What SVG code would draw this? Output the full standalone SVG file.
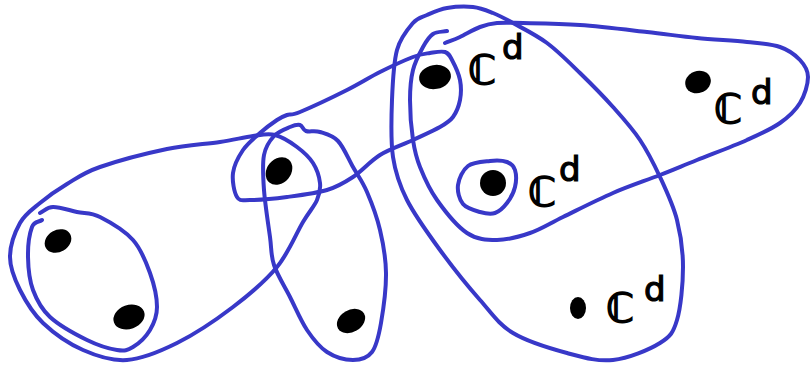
<svg xmlns="http://www.w3.org/2000/svg" width="810" height="367" viewBox="0 0 810 367">
<style>
.edge{fill:none;stroke:#3838c8;stroke-width:4;stroke-linecap:round;stroke-linejoin:round}
.dot{fill:#000}
.c{font-family:"DejaVu Sans","Noto Sans",sans-serif;font-size:40px;fill:#000;stroke:#000;stroke-width:1.6}
.d{font-size:34px;stroke-width:1.2}
</style>
<rect width="810" height="367" fill="#fff"/>
<g id="connectors">
<path id="e-left-outer" class="edge" d="M40,203 C47.8,196.5 57,190 67,184 S83.3,172.8 100,167 S147,153.2 167,149 S205.7,144.2 220,142 S243.8,137.2 253,136 S267.7,133.2 275,135 S290.7,142.3 297,147 S309.2,157 313,163 S319.3,176.8 320,183 S319.8,193.5 317,200 S309.7,210.8 303,222 S288.7,252.8 277,267 S249.7,294.3 233,307 S194.7,334.2 177,343 S142.7,358.8 127,360 S97,356.2 83,350 S53.5,333 43,323 S25.5,301 20,290 S10,268.2 10,257 S15,232 20,223 S32.2,209.5 40,203 Z"/>
<path id="e-left-inner" class="edge" d="M40,213 C44.3,211 46.8,207.2 53,207 S69.2,210.3 77,212 S90.7,212.3 100,217 S124.7,230.7 133,240 S146,261.8 150,273 S157,297.5 157,307 S154,323.3 150,330 S138.5,343.7 133,347 S124.7,351.2 117,350 S98.2,345.5 87,340 S59,325.3 50,317 S36.7,300 33,290 S28.2,267.5 28,257 S29.7,233.2 32,227 S38.7,222.3 42,220"/>
<path id="e-middle" class="edge" d="M300,125 C302.7,125.7 302.7,129.8 306,131 S314.7,130.3 320,132 S332.5,135.2 338,141 S348.2,158.5 353,167 S362.5,181.5 367,192 S376.8,216.5 380,230 S385.8,257.5 386,273 S383.3,309.8 381,323 S376.7,345.8 372,352 S360.5,360 353,360 S334.7,357 327,352 S313.2,339.2 307,330 S295.5,307.8 290,297 S277.3,275 274,265 S271.7,249.5 270,237 S265,203.7 264,190 S262.3,164 264,155 S269.7,140.7 274,136 S285.7,128.8 290,127 S297.3,124.3 300,125 Z"/>
<path id="e-bridge" class="edge" d="M380,155 C390,148.8 403,144.7 413,140 S433.3,130.8 440,127 S449.7,121.5 453,117 S458.8,106.2 460,100 S461.3,86.7 460,80 S454.5,64.7 452,60 S448.7,53.2 445,52 S435.3,52.2 430,53 S421.3,53.8 413,57 S391,66.5 380,72 S360.3,83.3 347,90 S310,107.8 300,112 S290.8,113.7 287,115 S281.5,117 277,120 S265.7,128 260,133 S247.5,143.3 243,150 S234,165.2 233,173 S234.2,192.5 237,197 S241.7,200 250,200 S274.2,198.7 287,197 S316,193.3 327,190 S344.2,182.8 353,177 S370,161.2 380,155 Z"/>
<path id="e-right-big" class="edge" d="M393,157 C390.5,140.3 391.3,117.8 392,100 S393.5,62.8 397,50 S408,28.8 413,23 S421.3,17.5 427,15 S439.3,9.3 447,8 S465.3,6.2 473,7 S486.3,10.3 493,13 S504,18 513,23 S535.8,34.7 547,43 S569,62.3 580,73 S603,95.8 613,107 S632.2,128.3 640,140 S653.8,163.7 660,177 S673.2,205 677,220 S683,250.3 683,267 S680.8,307.3 677,320 S670.7,336.3 660,343 S628.5,358.3 613,360 S583.7,357.5 567,353 S527.5,341.8 513,333 S492.2,313.8 480,300 S452.2,266.7 440,250 S414.8,215.5 407,200 S395.5,173.7 393,157 Z"/>
<path id="e-right-long" class="edge" d="M447,31 C442.3,32 437,31.3 433,34 S426.3,41 423,47 S415.2,61.2 413,70 S410,88.3 410,100 S411.3,128.8 413,140 S416,157 420,167 S429.2,189 437,200 S457,226.3 467,233 S486.5,240 497,240 S519,236.8 530,233 S549.2,223.7 563,217 S596.8,200 613,193 S646,180.5 660,175 S682.5,165.8 697,160 S733.2,146.2 747,140 S771.2,129.2 780,123 S795.3,110.7 800,103 S808,84.2 808,77 S804.7,65 800,60 S788.8,50 780,47 S760.8,43.5 747,42 S713.7,39.7 697,38 S666.5,34.2 647,32 S600.7,26.5 580,25 S536.8,23.3 523,23 S504.2,22.3 497,23 S486.2,24.7 480,27 S465.8,34.3 460,37 S450,41 445,43"/>
<path id="e-single" class="edge" d="M490,161 C496.5,160.3 502.8,160.5 507,162 S513.7,165.8 515,170 S516.3,181.5 515,187 S510.3,198.7 507,203 S499.5,211.5 495,213 S485.3,213.5 480,212 S466.7,208.5 463,204 S457.2,191.3 458,185 S462.7,170 468,166 S483.5,161.7 490,161 Z"/>
</g>
<g id="n1"><ellipse class="dot" cx="58" cy="241" rx="14" ry="11" transform="rotate(-30 58 241)"/></g>
<g id="n2"><ellipse class="dot" cx="129" cy="317" rx="16" ry="12" transform="rotate(-20 129 317)"/></g>
<g id="n3"><ellipse class="dot" cx="279" cy="171" rx="15" ry="12" transform="rotate(-50 279 171)"/></g>
<g id="n4"><ellipse class="dot" cx="351" cy="321" rx="15" ry="11" transform="rotate(-30 351 321)"/></g>
<g id="n5"><ellipse class="dot" cx="435" cy="77" rx="16" ry="12" transform="rotate(-10 435 77)"/>
<text class="c" x="468" y="84">ℂ<tspan class="d" x="502" y="59">d</tspan></text></g>
<g id="n6"><ellipse class="dot" cx="493" cy="183" rx="13" ry="13"/>
<text class="c" x="528" y="206">ℂ<tspan class="d" x="559" y="181">d</tspan></text></g>
<g id="n7"><ellipse class="dot" cx="698" cy="82" rx="13" ry="11" transform="rotate(-20 698 82)"/>
<text class="c" x="714" y="123">ℂ<tspan class="d" x="751" y="104">d</tspan></text></g>
<g id="n8"><ellipse class="dot" cx="578" cy="308" rx="8" ry="11"/>
<text class="c" x="606" y="322">ℂ<tspan class="d" x="644" y="301">d</tspan></text></g>
</svg>
